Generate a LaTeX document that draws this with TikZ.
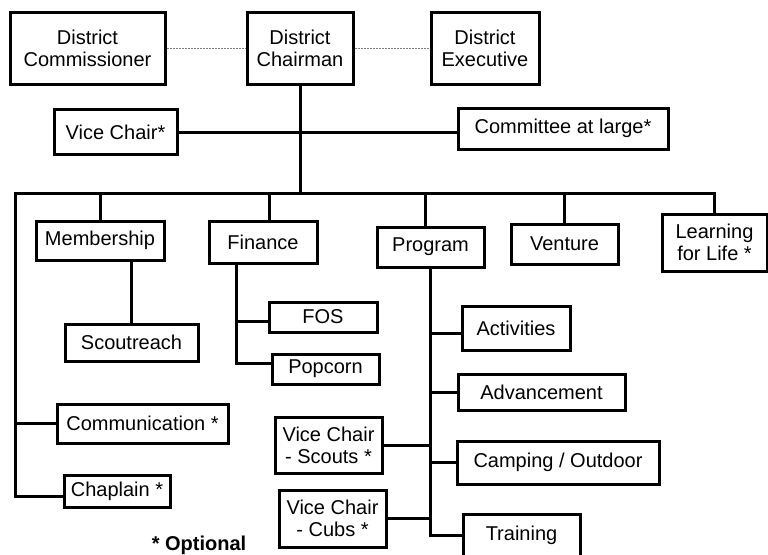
\documentclass[tikz,border=0pt]{standalone}
\usepackage{fontspec}
\setmainfont{Liberation Sans}
\begin{document}
\begin{tikzpicture}[x = 1pt, y = -1pt,
        box/.style = {draw, line width = 3pt, inner sep = 0pt, align = center,
            font = \fontsize{20}{22}\selectfont},
        link/.style = {line width = 3pt},
        dotlink/.style = {gray, line width = 1pt, dash pattern = on 2pt off 1pt}]
        \useasboundingbox (0,0) rectangle (768,554);
        % top row
        \node[box, minimum width = 155pt, minimum height = 72pt] (commissioner) at (87.5,48) {District\\Commissioner};
        \node[box, minimum width = 106pt, minimum height = 72pt] (chairman) at (300,48) {District\\Chairman};
        \node[box, minimum width = 108pt, minimum height = 72pt] (executive) at (485,48) {District\\Executive};
        \node[box, minimum width = 123pt, minimum height = 45pt] (vicechair) at (115.5,132) {Vice Chair*};
        \node[box, minimum width = 210pt, minimum height = 41pt] (atlarge) at (563,128.5) {Committee at large*};
        % committees
        \node[box, minimum width = 128pt, minimum height = 39pt] (membership) at (100,240.5) {Membership};
        \node[box, minimum width = 108pt, minimum height = 42pt] (finance) at (263,242) {Finance};
        \node[box, minimum width = 107pt, minimum height = 40pt] (program) at (430.5,247) {Program};
        \node[box, minimum width = 107pt, minimum height = 40pt] (venture) at (564.5,244) {Venture};
        \node[box, minimum width = 105pt, minimum height = 57pt] (learning) at (714.5,242.5) {Learning\\for Life *};
        \node[box, minimum width = 133pt, minimum height = 37pt] (scoutreach) at (131.5,342.5) {Scoutreach};
        \node[box, minimum width = 108pt, minimum height = 30pt] (fos) at (323,317) {FOS};
        \node[box, minimum width = 107pt, minimum height = 30pt] (popcorn) at (325.5,369) {Popcorn};
        \node[box, minimum width = 171pt, minimum height = 39pt] (communication) at (142.5,423.5) {Communication *};
        \node[box, minimum width = 106pt, minimum height = 32pt] (chaplain) at (117,491) {Chaplain *};
        % program side
        \node[box, minimum width = 108pt, minimum height = 44pt] (activities) at (516,328) {Activities};
        \node[box, minimum width = 167pt, minimum height = 36pt] (advancement) at (541.5,392) {Advancement};
        \node[box, minimum width = 202pt, minimum height = 43pt] (camping) at (558,462.5) {Camping / Outdoor};
        \node[box, minimum width = 117pt, minimum height = 42pt] (training) at (521.5,535) {Training};
        \node[box, minimum width = 107pt, minimum height = 56pt] (vcscouts) at (328.5,445) {Vice Chair\\- Scouts *};
        \node[box, minimum width = 107pt, minimum height = 57pt] (vccubs) at (332.5,518.5) {Vice Chair\\- Cubs *};
        \node[font = \fontsize{20}{22}\selectfont\bfseries] (optional) at (199,545) {* Optional};
        \coordinate (bus) at (300,193);
        \coordinate (busL) at (15,193);
        % connectors
        \draw[dotlink] (commissioner) -- (chairman);
        \draw[dotlink] (chairman) -- (executive);
        \draw[link] (chairman.south) -- (bus);
        \draw[link] (vicechair.east) -- (vicechair.east -| atlarge.west);
        \draw[link] (learning.north) |- (busL) |- ([yshift = -5pt]chaplain.west);
        \draw[link] (communication.west -| busL) -- (communication.west);
        \draw[link] (membership.north) -- (membership.north |- bus);
        \draw[link] ([xshift = 6pt]finance.north) -- ([xshift = 6pt]finance.north |- bus);
        \draw[link] ([xshift = -5pt]program.north) -- ([xshift = -5pt]program.north |- bus);
        \draw[link] (venture.north) -- (venture.north |- bus);
        \draw[link] (scoutreach.north) -- (scoutreach.north |- membership.south);
        \draw[link] ([xshift = -27pt]finance.south) |- ([yshift = 6pt]popcorn.west);
        \draw[link] ([yshift = -4pt]fos.west) -- ([yshift = -4pt]fos.west -| popcorn.west) -- +(-36,0);
        \draw[link] (program.south) |- (training.west);
        \draw[link] ([yshift = -5pt]activities.west) -- ([yshift = -5pt]activities.west -| program.south);
        \draw[link] (advancement.west) -- (advancement.west -| program.south);
        \draw[link] (camping.west) -- (camping.west -| program.south);
        \draw[link] (vcscouts.east) -- (vcscouts.east -| program.south);
        \draw[link] (vccubs.east) -- (vccubs.east -| program.south);
    \end{tikzpicture}
\end{document}
